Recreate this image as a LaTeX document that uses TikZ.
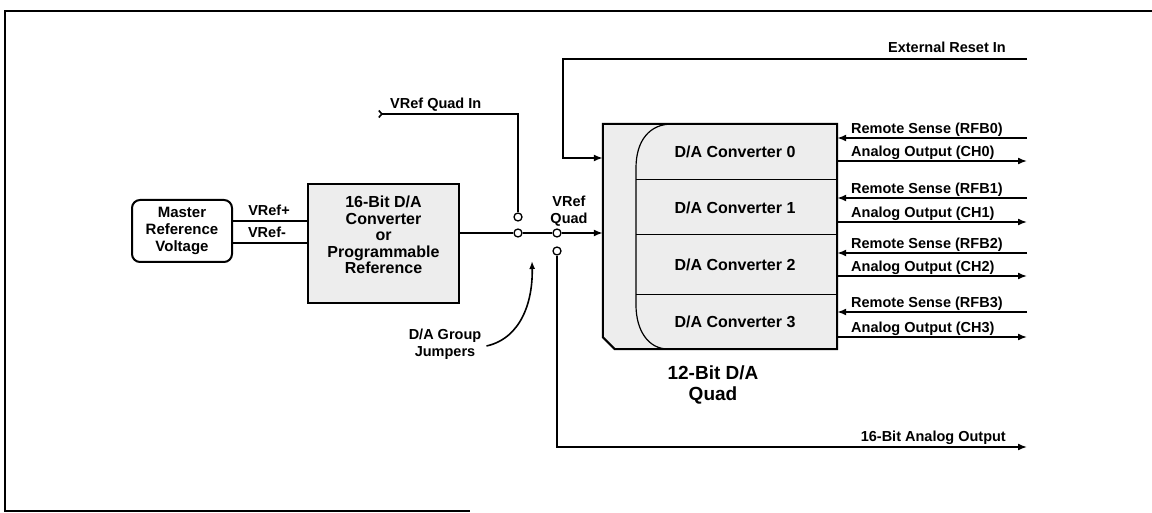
\documentclass[tikz,border=0pt]{standalone}
\usepackage{fontspec}
\setmainfont{Liberation Sans}
\usetikzlibrary{arrows.meta}
\begin{document}
\begin{tikzpicture}[x=1pt,y=-1pt,
  wire/.style={line width=1.6pt},
  sig/.style={wire,-{Latex[length=9pt,width=7pt]}},
  insig/.style={wire,{Straight Barb[reversed,length=3pt,width=7pt]}-},
  jmp/.style={circle,draw,line width=1.3pt,fill=white,inner sep=0pt,minimum size=8pt},
  boxfill/.style={draw,line width=2pt,fill=black!7},
  lbl/.style={font=\bfseries\fontsize{14.5}{17}\selectfont,inner sep=0pt},
  big/.style={font=\bfseries\fontsize{16}{16.5}\selectfont,inner sep=0pt,align=center},
]
\useasboundingbox (0,0) rectangle (1152,513);
% frame
\draw[line width=1.2pt] (1152,11) -- (5,11) -- (5,511) -- (470,511);

% Master reference voltage
\node[boxfill,fill=white,rounded corners=8pt,minimum width=100pt,minimum height=62pt,
      align=center,font=\bfseries\fontsize{15}{17}\selectfont,inner sep=0pt] (mrv) at (182,231)
      {Master\\Reference\\Voltage};

% 16-bit D/A
\node[boxfill,minimum width=151pt,minimum height=119pt,inner sep=0pt] (dac16) at (383.5,243.5) {};
\node[big] (dac16t) at (383.5,235) {16-Bit D/A\\Converter\\or\\Programmable\\Reference};

% VRef lines
\draw[wire] (mrv.east |- 0,221) -- (dac16.west |- 0,221);
\draw[wire] (mrv.east |- 0,243) -- (dac16.west |- 0,243);
\node[lbl,anchor=base] (vrp) at (269,216) {VRef+};
\node[lbl,anchor=base] (vrm) at (267,238) {VRef-};

% jumpers
\node[jmp] (j1) at (518,217) {};
\node[jmp] (j2) at (518,233) {};
\node[jmp] (j3) at (557,233) {};
\node[jmp] (j4) at (557,251) {};

% quad box
\node[inner sep=0pt,minimum width=234pt,minimum height=225pt] (quad) at (720,236.5) {};
\fill[black!7] (quad.north west) -- (quad.north east) -- (quad.south east)
  -- ([xshift=12pt]quad.south west) -- ([yshift=12pt]quad.south west) -- cycle;
\draw[line width=1.2pt] (672,124) .. controls (650,124) and (636,140) .. (636,168)
  -- (636,305) .. controls (636,330) and (648,349) .. (668,349);
\draw[line width=1pt] (636,180) -- (quad.east |- 0,180);
\draw[line width=1pt] (636,235) -- (quad.east |- 0,235);
\draw[line width=1pt] (636,295) -- (quad.east |- 0,295);
\draw[line width=2pt] (quad.north west) -- (quad.north east) -- (quad.south east)
  -- ([xshift=12pt]quad.south west) -- ([yshift=12pt]quad.south west) -- cycle;

\node[big] (c0) at (735,152) {D/A Converter 0};
\node[big] (c1) at (735,208) {D/A Converter 1};
\node[big] (c2) at (735,265) {D/A Converter 2};
\node[big] (c3) at (735,322) {D/A Converter 3};

\node[font=\bfseries\fontsize{19}{21}\selectfont,align=center,inner sep=0pt] (qt) at (713,385) {12-Bit D/A\\Quad};

% main VRef path
\draw[wire] (dac16.east |- j2) -- (j2.west);
\draw[wire] (j2.east) -- (j3.west);
\draw[sig] (j3.east) -- (quad.west |- j3);
\node[lbl,align=center] (vq) at (569,211.5) {VRef\\Quad};

% VRef Quad In
\coordinate (vqin) at (378,114);
\draw[insig] (vqin) -- (vqin -| j1) -- (j1.north);
\node[lbl,anchor=base west] (vqint) at (390,109) {VRef Quad In};

% External reset
\coordinate (erin) at (1027,59);
\coordinate (erc) at (563,59);
\draw[insig,-{Latex[length=9pt,width=7pt]}] (erin) -- (erc) |- (quad.west |- 0,158);
\node[lbl,anchor=base east] (ert) at (1006,53) {External Reset In};

% 16-bit analog output
\coordinate (aout) at (1027,447);
\draw[sig] (j4.south) |- (aout);
\node[lbl,anchor=base east] (aoutt) at (1006,441) {16-Bit Analog Output};

% jumper label and arrow
\node[lbl,align=center] (jl) at (445,344) {D/A Group\\Jumpers};
\coordinate (jtip) at (532,261);
\draw[wire,-{Latex[length=8pt,width=6pt]}] ([xshift=5pt,yshift=-2pt]jl.east)
  .. controls (522,338) and (533,300) .. (jtip);

% right side signals
\foreach \i/\ya/\yb in {0/138/161,1/198/222,2/253/276,3/312/337}{
  \coordinate (rs\i) at (1027,\ya);
  \coordinate (ao\i) at (1027,\yb);
  \draw[sig] (rs\i) -- (quad.east |- rs\i);
  \draw[sig] (quad.east |- ao\i) -- (ao\i);
  \node[lbl,anchor=base west] (rst\i) at (851,\ya-4) {Remote Sense (RFB\i)};
  \node[lbl,anchor=base west] (aot\i) at (851,\yb-4) {Analog Output (CH\i)};
}
\end{tikzpicture}
\end{document}
